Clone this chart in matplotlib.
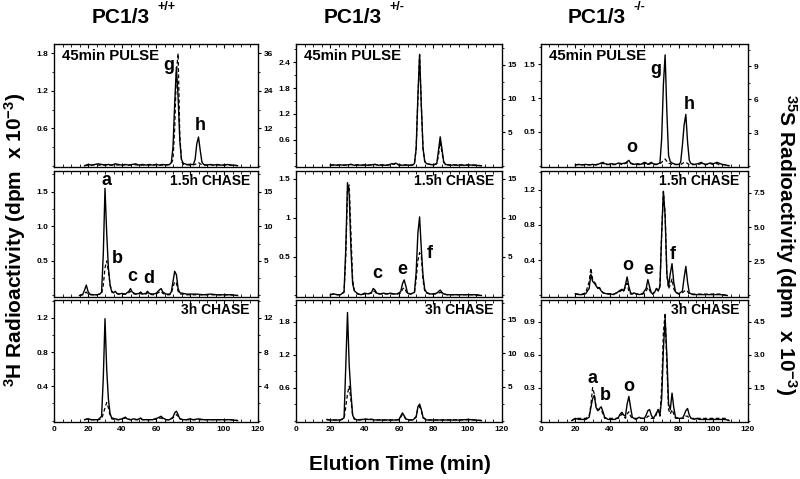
import matplotlib
matplotlib.use('Agg')
import matplotlib.pyplot as plt
from matplotlib.ticker import FixedLocator, MultipleLocator

plt.rcParams['font.family'] = ['Liberation Sans', 'DejaVu Sans']
plt.rcParams['font.weight'] = 'bold'
plt.rcParams['mathtext.fontset'] = 'custom'
plt.rcParams['mathtext.rm'] = 'Liberation Sans:bold'
plt.rcParams['mathtext.bf'] = 'Liberation Sans:bold'
plt.rcParams['mathtext.default'] = 'bf'

# ---- data: elution time (min), 3H (solid, left axis) and 35S (dashed, right axis)
# PC1/3 +/+
tA = [18,20,22,24,26,28,30,32,34,36,38,40,42,44,46,48,50,52,54,56,58,60,62,64,66,68,69,70,71,72,73,74,75,76,78,80,82,83,84,85,86,87,88,90,92,94,96,98,100,102,104,106,108]
hA = [0.0,0.02,0.01,0.02,0.03,0.02,0.01,0.02,0.01,0.03,0.02,0.01,0.02,0.01,0.02,0.03,0.01,0.02,0.01,0.02,0.01,0.02,0.01,0.02,0.01,0.02,
      0.05,0.3,1.0,1.58,1.1,0.4,0.1,0.04, 0.02,0.02,0.02, 0.1,0.35,0.46,0.25,0.06,0.02,
      0.01,0.02,0.01,0.02,0.01,0.01,0.02,0.01,0.01,0.0]
sA = [0.0,0.2,0.2,0.3,0.2,0.2,0.3,0.2,0.2,0.3,0.2,0.2,0.3,0.2,0.2,0.3,0.2,0.2,0.3,0.2,0.2,0.3,0.2,0.2,0.3,0.4,
      0.8,2.0,12.0,30.0,36.0,10.0,1.5,0.4, 0.3,0.2,0.3, 0.4,0.8,1.0,0.6,0.3,0.2,
      0.2,0.3,0.2,0.2,0.3,0.2,0.2,0.2,0.1,0.0]

tB = [15,17,18,19,20,21,23,25,27,28,29,30,31,32,33,34,35,36,37,38,40,42,44,45,46,48,50,51,52,54,55,56,58,60,62,63,64,66,68,69,70,71,72,73,74,76,78,80,84,88,92,96,100,104,108]
hB = [0.0,0.02,0.08,0.15,0.06,0.02, 0.01,0.01,0.02, 0.05,0.6,1.55,0.9,0.4,0.15,0.05,0.04,0.06,0.03,0.02,
      0.03,0.02,0.06,0.1,0.05,0.02, 0.03,0.05,0.02,0.03,0.06,0.03,0.02,0.03, 0.08,0.1,0.05,0.02,0.02,
      0.05,0.2,0.35,0.3,0.1,0.04, 0.03,0.02,0.02,0.02,0.01,0.02,0.01,0.01,0.01,0.0]
sB = [0.0,0.1,0.3,0.5,0.2,0.1, 0.1,0.1,0.2, 0.3,1.5,4.0,5.0,3.5,1.5,0.6,0.4,0.5,0.3,0.2,
      0.2,0.2,0.4,0.6,0.3,0.2, 0.2,0.3,0.2,0.2,0.4,0.2,0.1,0.2, 0.5,0.6,0.3,0.1,0.1,
      0.3,1.2,2.0,1.8,0.6,0.2, 0.2,0.1,0.1,0.1,0.1,0.1,0.1,0.1,0.1,0.0]

tC = [18,20,22,24,26,28,29,30,31,32,33,34,36,38,40,42,43,45,47,49,51,52,55,58,61,63,64,66,68,70,71,72,73,74,76,78,80,82,85,88,92,96,100,104,108]
hC = [0.01,0.02,0.01,0.01,0.01, 0.05,0.5,1.19,0.6,0.25,0.08,0.03,
      0.02,0.01,0.02,0.04,0.02,0.01,0.02,0.01,0.03,0.01, 0.01,0.01,0.03,0.05,0.03,0.01,0.01,
      0.04,0.09,0.11,0.07,0.02, 0.01,0.01,0.02,0.01,0.02,0.01, 0.01,0.01,0.01,0.01,0.0]
sC = [0.1,0.2,0.1,0.1,0.1, 0.2,0.8,1.5,2.1,1.5,0.6,0.2,
      0.1,0.1,0.2,0.3,0.2,0.1,0.1,0.1,0.2,0.1, 0.1,0.1,0.2,0.3,0.2,0.1,0.1,
      0.3,0.6,0.7,0.5,0.2, 0.1,0.1,0.1,0.1,0.1,0.1, 0.1,0.1,0.1,0.1,0.0]

# PC1/3 +/-
tD = [20,22,24,26,28,30,32,34,36,38,40,42,44,46,48,50,52,54,56,57,58,59,60,62,64,66,68,69,70,71,72,73,74,75,76,78,80,82,83,84,85,86,87,90,92,94,96,98,100,104,108]
hD = [0.01,0.02,0.01,0.02,0.01,0.02,0.03,0.01,0.02,0.01,0.02,0.01,0.02,0.03,0.01,0.02,0.01,0.02,
      0.05,0.03,0.06,0.04,0.02, 0.01,0.02,0.01,0.02, 0.05,0.4,1.6,2.58,1.4,0.4,0.1,0.05,
      0.03,0.02,0.05, 0.35,0.67,0.4,0.1,0.03, 0.01,0.02,0.01,0.02,0.01,0.02,0.01,0.0]
sD = [0.1,0.1,0.1,0.1,0.1,0.1,0.2,0.1,0.1,0.1,0.1,0.1,0.1,0.2,0.1,0.1,0.1,0.1,
      0.3,0.2,0.4,0.2,0.1, 0.1,0.1,0.1,0.1, 0.3,2.5,10.0,16.5,9.0,2.5,0.6,0.3,
      0.2,0.1,0.3, 1.5,3.5,2.0,0.5,0.2, 0.1,0.1,0.1,0.1,0.1,0.1,0.1,0.0]

tE = [20,22,24,26,28,29,30,31,32,33,34,35,36,38,40,42,44,45,46,47,49,51,53,55,57,59,61,62,63,64,65,67,69,70,71,72,73,74,75,76,78,80,82,84,85,86,88,92,96,100,104,108]
hE = [0.01,0.02,0.01,0.01, 0.05,0.6,1.45,1.3,0.6,0.15,0.06,0.04,0.02, 0.01,0.03,0.02,0.04,
      0.09,0.07,0.03, 0.02,0.03,0.02,0.03,0.02,0.02, 0.05,0.15,0.2,0.12,0.03, 0.02,
      0.04,0.3,0.8,1.01,0.6,0.25,0.08,0.04, 0.02,0.02,0.03,0.07,0.04,0.02,0.01,
      0.01,0.01,0.01,0.01,0.0]
sE = [0.1,0.2,0.1,0.1, 0.4,5.0,13.5,14.2,8.0,2.0,0.6,0.4,0.2, 0.1,0.2,0.2,0.3,
      0.6,0.5,0.2, 0.2,0.2,0.2,0.2,0.2,0.2, 0.3,0.8,1.0,0.6,0.2, 0.2,
      0.4,2.0,4.5,5.5,5.0,2.0,0.5,0.3, 0.2,0.2,0.2,0.4,0.3,0.2,0.1,
      0.1,0.1,0.1,0.1,0.0]

tF = [18,20,22,24,26,28,29,30,31,32,33,34,36,38,40,42,44,46,50,54,58,60,61,62,63,64,66,68,70,71,72,73,74,76,80,84,90,96,100,104,108]
hF = [0.02,0.01,0.01,0.01,0.01, 0.05,1.0,1.97,1.0,0.5,0.1,0.03, 0.01,0.02,0.02,0.02,0.02,0.01,
      0.01,0.01,0.01,0.02, 0.08,0.14,0.09,0.03, 0.01,0.01, 0.06,0.25,0.3,0.2,0.06,
      0.01,0.01,0.01,0.01,0.01,0.02,0.01,0.0]
sF = [0.1,0.1,0.1,0.1,0.1, 0.3,2.0,4.0,5.1,3.0,0.8,0.2, 0.1,0.1,0.2,0.2,0.2,0.1,
      0.1,0.1,0.1,0.1, 0.5,0.9,0.6,0.2, 0.1,0.1, 0.6,1.8,2.1,1.5,0.4,
      0.1,0.1,0.1,0.1,0.1,0.1,0.1,0.0]

# PC1/3 -/-
tG = [20,22,24,26,28,30,32,34,36,37,39,41,43,45,47,49,51,52,54,56,58,60,61,62,64,65,67,69,70,71,72,73,74,75,76,78,80,81,82,83,84,85,86,87,89,91,93,94,96,98,100,102,103,105,107,109]
hG = [0.01,0.02,0.01,0.02,0.01,0.02,0.01,0.03, 0.05,0.03, 0.02,0.03,0.02,0.04,0.03,0.04,
      0.08,0.04, 0.02,0.03,0.02, 0.05,0.04,0.02, 0.05,0.03,0.02,
      0.04,0.4,1.2,1.64,0.8,0.15,0.06,0.04, 0.02,0.02,
      0.05,0.3,0.6,0.76,0.35,0.08,0.03, 0.02,0.03,0.05,0.03,0.02,0.04,
      0.03,0.05,0.04,0.02,0.01,0.0]
sG = [0.1,0.1,0.1,0.1,0.1,0.1,0.1,0.2, 0.2,0.1, 0.1,0.1,0.1,0.2,0.1,0.2,
      0.3,0.2, 0.1,0.1,0.1, 0.2,0.2,0.1, 0.2,0.1,0.1,
      0.2,0.3,0.5,0.6,0.4,0.2,0.2,0.1, 0.1,0.1,
      0.1,0.2,0.3,0.3,0.2,0.1,0.1, 0.1,0.1,0.2,0.1,0.1,0.2,
      0.1,0.2,0.1,0.1,0.1,0.0]

tH = [20,22,24,26,28,29,30,31,32,33,34,35,36,38,40,42,44,46,47,48,49,50,51,52,53,54,55,57,59,61,62,63,64,65,66,67,68,69,70,71,72,73,74,75,76,77,78,80,82,83,84,85,86,88,92,96,100,104,108]
hH = [0.02,0.01,0.01,0.02, 0.08,0.24,0.16,0.14,0.11,0.08,0.09,0.05,0.03, 0.02,0.02,0.01,0.03,
      0.06,0.07,0.05,0.12,0.21,0.1,0.03,0.02,0.03,0.02, 0.01,0.02,
      0.08,0.18,0.1,0.03,0.02,0.04,0.08,0.05,0.1,0.7,1.18,0.9,0.25,0.1,0.25,0.36,0.15,0.04,
      0.02,0.05, 0.2,0.33,0.15,0.03, 0.01,0.01,0.01,0.01,0.01,0.0]
sH = [0.1,0.1,0.1,0.2, 1.0,2.0,1.2,1.0,0.8,0.6,0.5,0.4,0.2, 0.1,0.1,0.1,0.2,
      0.3,0.4,0.3,0.6,0.9,0.3,0.1,0.1,0.2,0.1, 0.1,0.1,
      0.3,0.6,0.4,0.1,0.1,0.3,0.5,0.4,0.7,4.5,7.6,6.0,1.5,0.5,0.8,1.2,0.5,0.2,
      0.1,0.2, 0.3,0.4,0.3,0.1, 0.1,0.1,0.1,0.1,0.1,0.0]

tI = [18,20,22,24,26,28,29,30,31,32,33,34,35,36,37,39,41,43,45,46,47,48,49,50,51,52,53,55,57,58,60,61,62,63,64,65,66,67,68,69,70,71,72,73,74,75,76,77,78,80,82,83,84,85,86,87,89,90,92,96,100,104,107,109]
hI = [0.0,0.02,0.01,0.01,0.01, 0.03,0.12,0.2,0.23,0.12,0.09,0.11,0.125,0.08,0.03,
      0.01,0.01,0.01, 0.03,0.06,0.075,0.05,0.04,0.15,0.22,0.12,0.03, 0.01,0.03,0.02,
      0.02,0.05,0.09,0.1,0.05,0.02,0.04,0.07,0.1,0.05,0.2,0.65,0.93,0.6,0.15,0.1,0.25,0.12,0.03,
      0.02,0.02, 0.05,0.09,0.11,0.05,0.02, 0.01,0.02,0.01, 0.01,0.01,0.01,0.01,0.0]
sI = [0.0,0.1,0.1,0.1,0.1, 0.2,0.7,1.5,1.2,0.6,0.5,0.5,0.5,0.3,0.1,
      0.1,0.1,0.1, 0.1,0.2,0.3,0.2,0.1,0.3,0.4,0.2,0.1, 0.1,0.1,0.1,
      0.1,0.1,0.2,0.2,0.1,0.1,0.1,0.3,0.5,0.2,1.5,4.0,4.9,2.5,0.5,0.3,0.5,0.3,0.1,
      0.1,0.1, 0.1,0.2,0.2,0.1,0.1, 0.1,0.1,0.1, 0.1,0.1,0.1,0.1,0.0]

genotypes = ['+/+', '+/-', '-/-']
stages = ['45min PULSE', '1.5h CHASE', '3h CHASE']

# (times, 3H, 35S, left ymax, left ticks, left labels, right ymax, right ticks, right labels)
panels = [
    [(tA, hA, sA, 1.95, [0.6, 1.2, 1.8], ['0.6', '1.2', '1.8'], 39, [12, 24, 36], ['12', '24', '36']),
     (tB, hB, sB, 1.8, [0.5, 1.0, 1.5], ['0.5', '1.0', '1.5'], 18, [5, 10, 15], ['5', '10', '15']),
     (tC, hC, sC, 1.41, [0.4, 0.8, 1.2], ['0.4', '0.8', '1.2'], 14.1, [4, 8, 12], ['4', '8', '12'])],
    [(tD, hD, sD, 2.82, [0.6, 1.2, 1.8, 2.4], ['0.6', '1.2', '1.8', '2.4'], 18.1, [5, 10, 15], ['5', '10', '15']),
     (tE, hE, sE, 1.6, [0.5, 1.0, 1.5], ['0.5', '1', '1.5'], 16, [5, 10, 15], ['5', '10', '15']),
     (tF, hF, sF, 2.2, [0.6, 1.2, 1.8], ['0.6', '1.2', '1.8'], 17.9, [5, 10, 15], ['5', '10', '15'])],
    [(tG, hG, sG, 1.8, [0.5, 1.0, 1.5], ['0.5', '1', '1.5'], 11, [3, 6, 9], ['3', '6', '9']),
     (tH, hH, sH, 1.41, [0.4, 0.8, 1.2], ['0.4', '0.8', '1.2'], 9.1, [2.5, 5.0, 7.5], ['2.5', '5.0', '7.5']),
     (tI, hI, sI, 1.1, [0.3, 0.6, 0.9], ['0.3', '0.6', '0.9'], 5.5, [1.5, 3.0, 4.5], ['1.5', '3.0', '4.5'])],
]

# peak letters: (column, row, letter, time, 3H value)
peak_labels = [
    (0, 0, 'g', 67.5, 1.6), (0, 0, 'h', 86, 0.65),
    (0, 1, 'a', 31, 1.66), (0, 1, 'b', 37.3, 0.53), (0, 1, 'c', 46, 0.28), (0, 1, 'd', 55.5, 0.24),
    (1, 1, 'c', 47.6, 0.28), (1, 1, 'e', 62, 0.33), (1, 1, 'f', 77.7, 0.54),
    (2, 0, 'g', 66.7, 1.43), (2, 0, 'h', 86, 0.9), (2, 0, 'o', 52.6, 0.27),
    (2, 1, 'o', 50.3, 0.34), (2, 1, 'e', 62.2, 0.29), (2, 1, 'f', 76.7, 0.46),
    (2, 2, 'a', 30, 0.38), (2, 2, 'b', 37.1, 0.23), (2, 2, 'o', 51, 0.31),
]

fig = plt.figure(figsize=(8, 4.79), dpi=100)
col_left = [0.0675, 0.37, 0.676]
col_w = [0.255, 0.2575, 0.259]
row_bottom = [0.651, 0.380, 0.119]
row_h = [0.257, 0.263, 0.255]

axes = {}
for c in range(3):
    for r in range(3):
        t, h, s, ymax, lt, ll, rmax, rt, rl = panels[c][r]
        ax = fig.add_axes([col_left[c], row_bottom[r], col_w[c], row_h[r]])
        ax.plot(t, h, color='black', lw=1.0)
        ax.set_xlim(0, 120)
        ax.set_ylim(-0.012 * ymax, ymax)
        ax.yaxis.set_major_locator(FixedLocator(lt))
        ax.set_yticklabels(ll)
        ax.yaxis.set_minor_locator(MultipleLocator((lt[1] - lt[0]) / 2))
        ax.xaxis.set_major_locator(MultipleLocator(20))
        ax.xaxis.set_minor_locator(MultipleLocator(5))
        ax.tick_params(axis='x', which='both', direction='in', top=True, labelsize=6, pad=3)
        ax.tick_params(axis='x', which='major', length=3)
        ax.tick_params(axis='x', which='minor', length=2)
        ax.tick_params(axis='y', which='both', direction='out', labelsize=6, pad=1.5)
        ax.tick_params(axis='y', which='major', length=2.5)
        ax.tick_params(axis='y', which='minor', length=1.5)
        if r < 2:
            ax.tick_params(axis='x', labelbottom=False)
        for sp in ax.spines.values():
            sp.set_linewidth(0.9)

        ax2 = ax.twinx()
        ax2.plot(t, s, color='black', lw=0.9, ls=(0, (3, 2)))
        ax2.set_ylim(-0.012 * rmax, rmax)
        ax2.yaxis.set_major_locator(FixedLocator(rt))
        ax2.set_yticklabels(rl)
        ax2.yaxis.set_minor_locator(MultipleLocator((rt[1] - rt[0]) / 2))
        ax2.tick_params(axis='y', which='both', direction='out', labelsize=6, pad=1.5)
        ax2.tick_params(axis='y', which='major', length=2.5)
        ax2.tick_params(axis='y', which='minor', length=1.5)

        if r == 0:
            ax.text(0.04, 0.9, stages[r], transform=ax.transAxes, fontsize=10.8,
                    fontweight='bold', ha='left', va='center')
        else:
            ax.text(0.96, 0.92, stages[r], transform=ax.transAxes, fontsize=10,
                    fontweight='bold', ha='right', va='center')
        axes[(c, r)] = ax

for c, r, letter, x, y in peak_labels:
    axes[(c, r)].text(x, y, letter, fontsize=13, fontweight='bold', ha='center', va='center')

# column titles
title_x = [0.187, 0.477, 0.782]
for c in range(3):
    fig.text(title_x[c], 0.963, 'PC1/3', fontsize=15, fontweight='bold', ha='right', va='center')
    fig.text(title_x[c] + 0.01, 0.985, genotypes[c], fontsize=9, fontweight='bold', ha='left', va='center')

fig.text(0.019, 0.5, r'$^{3}$H Radioactivity (dpm  x 10$^{-3}$)', rotation=90,
         fontsize=15, fontweight='bold', ha='center', va='center')
fig.text(0.982, 0.49, r'$^{35}$S Radioactivity (dpm  x 10$^{-3}$)', rotation=270,
         fontsize=15, fontweight='bold', ha='center', va='center')
fig.text(0.5, 0.03, 'Elution Time (min)', fontsize=15, fontweight='bold', ha='center', va='center')

fig.savefig('out.png', dpi=100)
